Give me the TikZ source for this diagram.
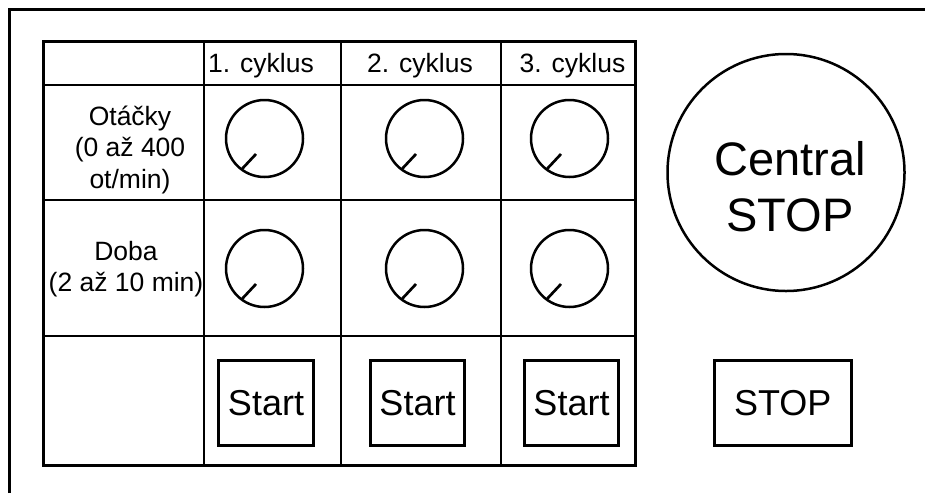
\documentclass[tikz,border=0pt]{standalone}
\usepackage{fontspec}
\setmainfont{Liberation Sans}
\usetikzlibrary{calc}
\tikzset{
  frameline/.style={line width=3.5pt},
  tableouter/.style={line width=3pt},
  tableinner/.style={line width=1.8pt},
  knob/.style={circle, draw, line width=2.5pt, minimum size=77pt, inner sep=0pt},
  pointer/.style={line width=2.7pt},
  btn/.style={rectangle, draw, line width=3pt, inner sep=0pt, minimum height=85pt, font=\fontsize{36}{40}\selectfont},
  hdr/.style={anchor=base, inner sep=0pt, font=\fontsize{26.5}{31.5}\selectfont},
  rowlab/.style={anchor=base, inner sep=0pt, align=center, font=\fontsize{26.5}{31.5}\selectfont},
  bigstop/.style={circle, draw, line width=2.5pt, minimum size=237pt, inner sep=0pt},
  bigtext/.style={inner sep=0pt, align=center, font=\fontsize{47}{56}\selectfont}
}
\begin{document}
\begin{tikzpicture}[x=1pt,y=-1pt]
\useasboundingbox (0,0) rectangle (925,493);
% outer frame (cut off at right and bottom)
\draw[frameline] (9.5,493) -- (9.5,9.5) -- (925,9.5);
% table
\draw[tableinner] (204,41) -- (204,465);
\draw[tableinner] (341,41) -- (341,465);
\draw[tableinner] (501,41) -- (501,465);
\draw[tableinner] (43.5,85) -- (635,85);
\draw[tableinner] (43.5,200) -- (635,200);
\draw[tableinner] (43.5,336) -- (635,336);
\draw[tableouter] (43.5,41) rectangle (635,465);
% headers
\node[hdr] (h1) at (261,72.7) {1. cyklus};
\node[hdr] (h2) at (420,72.7) {2. cyklus};
\node[hdr] (h3) at (572.5,72.7) {3. cyklus};
% row labels
\node[rowlab] (r1) at (130,188.3) {Otáčky\\(0 až 400\\ot/min)};
\node[rowlab] (r2) at (126,291.7) {Doba\\(2 až 10 min)};
% knobs
\node[knob] (k11) at (264.5,138.5) {};
\node[knob] (k12) at (424.5,138.5) {};
\node[knob] (k13) at (569.5,138.5) {};
\node[knob] (k21) at (264.5,268.5) {};
\node[knob] (k22) at (424.5,268.5) {};
\node[knob] (k23) at (569.5,268.5) {};
\foreach \k in {k11,k12,k13,k21,k22,k23}{
  \draw[pointer] ($(\k.center)+(-8.5,15.5)$) -- ($(\k.center)+(-23,31)$);
}
% start buttons
\node[btn, minimum width=95pt] (s1) at (266,403) {Start};
\node[btn, minimum width=94pt] (s2) at (417.5,403) {Start};
\node[btn, minimum width=94pt] (s3) at (571.5,403) {Start};
% central stop
\node[bigstop] (cs) at (786,172.5) {};
\node[bigtext] (cst) at (790,187) {Central\\STOP};
% stop button
\node[btn, minimum width=137pt] (stop) at (782.7,403) {STOP};
\end{tikzpicture}
\end{document}
